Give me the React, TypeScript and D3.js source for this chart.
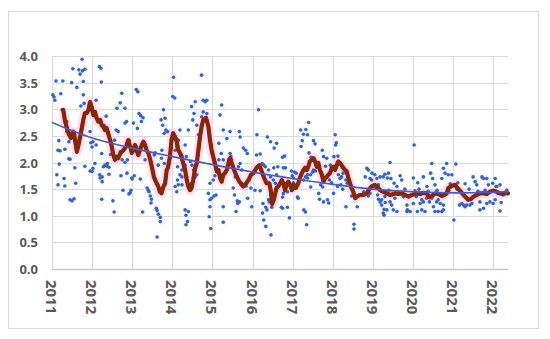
import React from "react";
import * as d3 from "d3";

// ---------- data ----------
const xTickYears = [2011, 2012, 2013, 2014, 2015, 2016, 2017, 2018, 2019, 2020, 2021, 2022];
const yTicks = [0, 0.5, 1, 1.5, 2, 2.5, 3, 3.5, 4];
const xDomain: [number, number] = [2011, 2022.37];

// scatter observations [year, value]
const scatterPoints: [number, number][] = [
  // 2011
  [2011.02, 3.27], [2011.05, 3.23], [2011.07, 3.17], [2011.1, 3.53], [2011.22, 3.29], [2011.27, 3.53],
  [2011.49, 3.5], [2011.52, 3.76], [2011.62, 3.41], [2011.67, 3.74], [2011.7, 3.66], [2011.75, 3.94],
  [2011.76, 3.72], [2011.78, 3.52], [2011.82, 3.75], [2011.78, 3.27], [2011.8, 3.11], [2011.72, 3.06],
  [2011.92, 3.06], [2011.17, 2.41], [2011.2, 2.22], [2011.25, 2.99], [2011.37, 2.58], [2011.37, 2.77],
  [2011.42, 2.39], [2011.45, 2.06], [2011.15, 2.23], [2011.32, 2.25], [2011.42, 2.07], [2011.57, 1.9],
  [2011.12, 1.77], [2011.3, 1.7], [2011.32, 1.56], [2011.15, 1.58], [2011.59, 1.61], [2011.45, 1.3],
  [2011.55, 1.32], [2011.5, 1.28], [2011.95, 1.84], [2011.97, 2.37], [2011.95, 2.58], [2011.18, 1.97],
  [2011.82, 1.93], [2011.57, 2.4],
  // 2012
  [2012.0, 2.29], [2012.1, 2.33], [2012.18, 3.8], [2012.22, 3.77], [2012.23, 3.51], [2012.1, 3.17],
  [2012.35, 2.87], [2012.3, 2.7], [2012.62, 3.02], [2012.7, 3.12], [2012.74, 3.3], [2012.82, 3.02],
  [2012.86, 2.77], [2012.82, 2.74], [2012.6, 2.61], [2012.65, 2.58], [2012.02, 2.39], [2012.2, 1.71],
  [2012.25, 1.64], [2012.24, 1.31], [2012.32, 1.95], [2012.37, 1.93], [2012.42, 1.91], [2012.42, 1.78],
  [2012.52, 1.28], [2012.55, 1.07], [2012.72, 1.75], [2012.87, 1.8], [2012.99, 1.71], [2013.0, 1.69],
  [2012.77, 1.48], [2012.92, 1.41], [2012.97, 1.48], [2012.95, 1.43], [2012.82, 2.0], [2012.75, 2.05],
  [2012.02, 1.89], [2012.07, 1.98], [2012.0, 1.83], [2012.24, 2.17], [2012.19, 1.77], [2012.25, 1.73],
  [2012.28, 1.92], [2012.38, 1.98], [2012.56, 2.42], [2012.92, 2.42], [2012.46, 2.15], [2012.7, 2.2],
  [2012.88, 2.05],
  // 2013
  [2013.03, 2.74], [2013.1, 3.37], [2013.14, 3.33], [2013.17, 2.92], [2013.21, 2.88], [2013.27, 2.84],
  [2013.13, 2.64], [2013.23, 2.77], [2013.2, 1.69], [2013.26, 1.07], [2013.37, 1.52], [2013.4, 1.48],
  [2013.42, 1.45], [2013.45, 1.37], [2013.47, 1.24], [2013.48, 1.31], [2013.6, 1.14], [2013.62, 1.1],
  [2013.65, 1.03], [2013.7, 0.97], [2013.7, 0.89], [2013.62, 0.6], [2013.55, 2.14], [2013.57, 2.18],
  [2013.74, 2.23], [2013.78, 2.99], [2013.82, 2.83], [2013.8, 2.55], [2013.84, 2.61], [2013.88, 2.58],
  [2013.98, 2.43], [2013.72, 2.8], [2013.76, 2.7], [2013.05, 1.75], [2013.1, 2.3], [2013.32, 2.05],
  [2013.65, 1.95], [2013.73, 2.08], [2013.8, 1.98],
  // 2014
  [2014.03, 3.6], [2014.01, 3.24], [2014.06, 3.21], [2014.11, 2.3], [2014.15, 2.42], [2014.19, 2.61],
  [2014.32, 2.33], [2014.07, 2.23], [2014.13, 1.92], [2014.24, 1.86], [2014.28, 1.92], [2014.32, 1.95],
  [2014.48, 3.05], [2014.57, 3.14], [2014.73, 3.64], [2014.77, 3.17], [2014.82, 3.14], [2014.86, 3.17],
  [2014.77, 2.95], [2014.73, 2.86], [2014.86, 2.92], [2014.54, 2.92], [2014.51, 2.8], [2014.65, 2.52],
  [2014.61, 2.7], [2014.4, 2.61], [2014.24, 2.05], [2014.35, 2.11], [2014.45, 2.02], [2014.49, 1.95],
  [2014.53, 1.86], [2014.07, 1.55], [2014.15, 1.58], [2014.24, 1.58], [2014.11, 1.45], [2014.13, 1.67],
  [2014.19, 1.77], [2014.24, 1.73], [2014.32, 1.11], [2014.4, 1.08], [2014.34, 1.01], [2014.38, 0.89],
  [2014.34, 0.83], [2014.9, 1.42], [2014.94, 1.3], [2014.98, 1.33], [2015.04, 1.37], [2015.09, 1.39],
  [2014.94, 1.17], [2014.92, 0.98], [2014.96, 0.76], [2015.02, 1.67], [2015.06, 1.75], [2014.36, 1.73],
  [2014.57, 1.73], [2014.61, 1.77], [2014.48, 1.61], [2014.94, 1.61],
  // 2015
  [2015.23, 3.08], [2015.19, 2.89], [2015.27, 2.61], [2015.36, 2.45], [2015.44, 2.58], [2015.16, 2.36],
  [2015.22, 2.17], [2015.16, 2.05], [2015.27, 2.05], [2015.44, 2.17], [2015.46, 2.11], [2015.4, 2.05],
  [2015.48, 2.05], [2015.69, 1.98], [2015.73, 1.86], [2015.65, 1.92], [2015.57, 1.73], [2015.65, 1.67],
  [2015.77, 2.27], [2015.83, 2.23], [2015.87, 2.17], [2015.27, 1.17], [2015.27, 0.88], [2015.52, 1.52],
  [2015.55, 1.39], [2015.63, 1.23], [2015.62, 1.28], [2015.67, 1.26], [2015.59, 1.08], [2015.73, 1.61],
  [2015.84, 1.56], [2015.96, 1.52], [2016.06, 1.48], [2016.19, 1.47], [2015.88, 1.33], [2015.98, 1.17],
  [2015.67, 2.58], [2015.69, 2.48],
  // 2016
  [2016.15, 2.99], [2016.11, 2.52], [2016.37, 2.48], [2016.45, 2.39], [2016.24, 1.98], [2016.28, 1.95],
  [2016.32, 1.92], [2016.4, 1.86], [2016.45, 1.73], [2016.52, 1.67], [2016.57, 1.61], [2016.1, 2.14],
  [2016.19, 2.16], [2016.54, 2.27], [2016.6, 2.36], [2016.26, 1.23], [2016.33, 1.16], [2016.36, 1.11],
  [2016.25, 1.05], [2016.28, 0.92], [2016.33, 0.8], [2016.46, 0.64], [2016.4, 1.3], [2016.42, 1.26],
  [2016.53, 1.9], [2016.63, 1.92], [2016.77, 1.9], [2016.82, 1.9], [2016.6, 1.77], [2016.48, 1.16],
  [2016.75, 1.35], [2016.77, 1.42], [2016.72, 1.16], [2016.75, 1.14], [2016.87, 1.45], [2016.87, 1.16],
  [2016.92, 0.96], [2016.97, 1.84], [2016.99, 1.75], [2017.02, 1.71], [2017.02, 1.62], [2017.04, 1.54],
  [2017.04, 1.82], [2017.09, 1.8], [2017.12, 1.35], [2017.14, 1.33], [2016.8, 2.12], [2016.75, 2.1],
  // 2017
  [2017.27, 1.67], [2017.37, 1.71], [2017.37, 1.77], [2017.32, 1.73], [2017.32, 1.07], [2017.35, 0.83],
  [2017.45, 1.77], [2017.5, 1.82], [2017.52, 1.86], [2017.57, 1.84], [2017.45, 1.54], [2017.7, 1.58],
  [2017.75, 1.54], [2017.65, 1.42], [2017.67, 1.31], [2017.77, 1.26], [2017.9, 1.24], [2017.87, 1.3],
  [2017.82, 1.93], [2017.94, 1.95], [2017.97, 1.9], [2018.04, 1.92], [2017.92, 1.67], [2017.97, 1.62],
  [2018.02, 1.42], [2017.4, 2.75], [2017.2, 2.61], [2017.33, 2.62], [2017.27, 2.53], [2017.37, 2.52],
  [2017.24, 2.41], [2017.21, 2.3], [2017.52, 2.41], [2017.56, 2.35], [2017.74, 2.23], [2017.77, 2.11],
  [2017.85, 2.08], [2017.41, 2.18], [2017.46, 2.1], [2017.28, 1.11],
  // 2018
  [2018.06, 2.52], [2018.09, 2.37], [2018.07, 2.33], [2018.03, 2.11], [2018.13, 2.12], [2018.14, 1.77],
  [2018.22, 1.73], [2018.18, 1.7], [2018.26, 1.8], [2018.33, 1.67], [2018.36, 1.61], [2018.2, 1.58],
  [2018.33, 1.17], [2018.47, 1.37], [2018.53, 0.84], [2018.53, 0.75], [2018.61, 1.17], [2018.85, 1.89],
  [2018.89, 1.86], [2018.81, 1.73], [2018.93, 1.7], [2018.97, 1.67], [2018.77, 1.45], [2018.81, 1.42],
  [2018.89, 1.37], [2018.93, 1.42], [2018.12, 1.55], [2018.25, 1.5],
  // 2019
  [2018.98, 1.8], [2019.05, 1.77], [2019.1, 1.7], [2019.18, 1.73], [2019.26, 1.73], [2019.3, 1.78],
  [2019.39, 1.8], [2019.01, 1.55], [2019.08, 1.52], [2019.14, 1.58], [2019.18, 1.48], [2019.14, 1.31],
  [2019.18, 1.26], [2019.22, 1.2], [2019.28, 1.12], [2019.26, 1.05], [2019.12, 1.39], [2019.3, 1.36],
  [2019.43, 2.0], [2019.36, 1.71], [2019.45, 1.7], [2019.53, 1.61], [2019.6, 1.55], [2019.72, 1.67],
  [2019.68, 1.75], [2019.22, 1.3], [2019.31, 1.25], [2019.35, 1.11], [2019.43, 1.26], [2019.47, 1.2],
  [2019.55, 1.33], [2019.51, 1.11], [2019.6, 1.08], [2019.28, 1.01], [2019.68, 1.42], [2019.76, 1.36],
  [2019.85, 1.2], [2019.86, 1.11], [2019.93, 1.08], [2019.4, 1.48], [2019.62, 1.45], [2019.8, 1.5],
  [2019.85, 1.08],
  // 2020
  [2020.03, 2.33], [2020.47, 1.98], [2020.84, 1.98], [2020.76, 1.89], [2020.44, 1.8], [2020.8, 1.8],
  [2020.88, 1.77], [2020.97, 1.77], [2020.72, 1.7], [2020.49, 1.7], [2020.55, 1.58], [2020.01, 1.71],
  [2020.26, 1.73], [2020.01, 1.23], [2020.08, 1.36], [2020.11, 1.08], [2020.18, 1.23], [2020.22, 1.3],
  [2020.26, 1.26], [2020.3, 1.08], [2020.34, 1.33], [2020.41, 1.26], [2020.47, 1.33], [2020.51, 1.17],
  [2020.55, 1.08], [2020.59, 1.26], [2020.63, 1.3], [2020.68, 1.23], [2020.72, 1.08], [2020.76, 1.2],
  [2020.05, 1.47], [2020.15, 1.5], [2020.38, 1.46], [2020.6, 1.48], [2020.9, 1.47], [2020.22, 1.11],
  [2020.63, 1.08], [2020.76, 1.11], [2020.12, 1.62], [2020.35, 1.55], [2020.93, 1.6],
  // 2021
  [2021.07, 1.97], [2021.02, 0.92], [2021.16, 1.2], [2021.22, 1.23], [2021.26, 1.2], [2021.3, 1.17],
  [2021.34, 1.2], [2021.42, 1.2], [2021.47, 1.23], [2021.67, 1.26], [2021.84, 1.23], [2021.92, 1.26],
  [2021.5, 1.73], [2021.55, 1.64], [2021.59, 1.58], [2021.72, 1.73], [2021.76, 1.7], [2021.84, 1.7],
  [2021.88, 1.58], [2021.99, 1.61], [2021.67, 1.11], [2021.76, 1.14], [2021.1, 1.5], [2021.2, 1.45],
  [2021.4, 1.5], [2021.62, 1.46], [2021.8, 1.48], [2021.12, 1.62], [2021.3, 1.6],
  // 2022
  [2022.0, 1.23], [2022.05, 1.3], [2022.05, 1.7], [2022.07, 1.55], [2022.17, 1.09], [2022.09, 1.55],
  [2022.17, 1.58], [2022.12, 1.42], [2022.25, 1.39], [2022.34, 1.48], [2022.3, 1.44], [2022.2, 1.25],
];

// moving average [year, value]
const movingAvg: [number, number][] = [
  [2011.28, 2.99], [2011.32, 2.8], [2011.37, 2.65], [2011.41, 2.55], [2011.47, 2.46], [2011.52, 2.58],
  [2011.55, 2.55], [2011.62, 2.2], [2011.66, 2.33], [2011.72, 2.55], [2011.78, 2.8], [2011.82, 2.93],
  [2011.87, 2.93], [2011.91, 2.99], [2011.95, 3.14], [2011.99, 3.04], [2012.03, 2.89], [2012.07, 2.95],
  [2012.11, 2.84], [2012.15, 2.77], [2012.2, 2.8], [2012.24, 2.7], [2012.28, 2.67], [2012.32, 2.61],
  [2012.36, 2.65], [2012.4, 2.55], [2012.45, 2.42], [2012.49, 2.3], [2012.53, 2.14], [2012.57, 2.05],
  [2012.61, 2.11], [2012.65, 2.08], [2012.71, 2.18], [2012.78, 2.23], [2012.85, 2.3], [2012.9, 2.42],
  [2012.95, 2.3], [2012.99, 2.18], [2013.03, 2.23], [2013.07, 2.33], [2013.11, 2.23], [2013.15, 2.14],
  [2013.19, 2.23], [2013.24, 2.33], [2013.28, 2.39], [2013.32, 2.33], [2013.36, 2.23], [2013.4, 2.18],
  [2013.44, 2.08], [2013.49, 1.92], [2013.54, 1.73], [2013.59, 1.64], [2013.65, 1.55], [2013.69, 1.45],
  [2013.73, 1.42], [2013.78, 1.55], [2013.82, 1.61], [2013.86, 1.86], [2013.89, 1.9], [2013.94, 2.1],
  [2013.98, 2.42], [2014.02, 2.55], [2014.07, 2.48], [2014.11, 2.39], [2014.15, 2.23], [2014.19, 2.18],
  [2014.23, 2.11], [2014.27, 1.99], [2014.32, 1.86], [2014.36, 1.67], [2014.4, 1.55], [2014.44, 1.48],
  [2014.48, 1.52], [2014.52, 1.67], [2014.57, 1.9], [2014.61, 1.99], [2014.65, 2.23], [2014.69, 2.48],
  [2014.73, 2.67], [2014.77, 2.8], [2014.84, 2.84], [2014.9, 2.67], [2014.94, 2.42], [2014.98, 2.23],
  [2015.02, 2.11], [2015.06, 1.99], [2015.11, 1.83], [2015.15, 1.86], [2015.19, 1.71], [2015.23, 1.64],
  [2015.27, 1.77], [2015.31, 1.8], [2015.36, 1.86], [2015.4, 1.99], [2015.44, 2.08], [2015.48, 1.99],
  [2015.54, 1.86], [2015.59, 1.77], [2015.65, 1.67], [2015.73, 1.58], [2015.77, 1.55], [2015.84, 1.61],
  [2015.9, 1.67], [2015.96, 1.77], [2016.02, 1.8], [2016.1, 1.9], [2016.17, 1.95], [2016.23, 1.83],
  [2016.29, 1.71], [2016.35, 1.61], [2016.42, 1.61], [2016.46, 1.45], [2016.49, 1.22], [2016.53, 1.3],
  [2016.56, 1.4], [2016.6, 1.52], [2016.64, 1.55], [2016.69, 1.61], [2016.73, 1.67], [2016.77, 1.61],
  [2016.81, 1.48], [2016.85, 1.58], [2016.89, 1.64], [2016.94, 1.58], [2016.98, 1.48], [2017.03, 1.58],
  [2017.08, 1.52], [2017.14, 1.61], [2017.18, 1.71], [2017.23, 1.8], [2017.27, 1.86], [2017.31, 1.9],
  [2017.35, 1.86], [2017.39, 1.92], [2017.43, 2.02], [2017.48, 2.05], [2017.52, 2.08], [2017.56, 2.02],
  [2017.6, 1.92], [2017.64, 1.99], [2017.68, 1.86], [2017.73, 1.77], [2017.77, 1.64], [2017.81, 1.71],
  [2017.85, 1.73], [2017.89, 1.77], [2017.93, 1.8], [2017.98, 1.9], [2018.02, 1.92], [2018.06, 1.86],
  [2018.1, 1.95], [2018.14, 2.02], [2018.18, 1.99], [2018.22, 1.95], [2018.26, 1.9], [2018.31, 1.86],
  [2018.35, 1.83], [2018.39, 1.71], [2018.43, 1.61], [2018.47, 1.52], [2018.51, 1.45], [2018.56, 1.33],
  [2018.6, 1.36], [2018.68, 1.39], [2018.76, 1.39], [2018.85, 1.42], [2018.89, 1.48], [2018.97, 1.55],
  [2019.05, 1.58], [2019.14, 1.52], [2019.18, 1.48], [2019.26, 1.45], [2019.35, 1.42], [2019.43, 1.39],
  [2019.55, 1.42], [2019.63, 1.41], [2019.72, 1.42], [2019.8, 1.39], [2019.89, 1.36], [2019.97, 1.39],
  [2020.09, 1.42], [2020.18, 1.41], [2020.26, 1.43], [2020.34, 1.42], [2020.41, 1.35], [2020.47, 1.37],
  [2020.55, 1.42], [2020.63, 1.41], [2020.72, 1.37], [2020.78, 1.39], [2020.84, 1.42], [2020.88, 1.52],
  [2020.97, 1.56], [2021.05, 1.58], [2021.11, 1.52], [2021.16, 1.48], [2021.22, 1.43], [2021.3, 1.36],
  [2021.38, 1.3], [2021.44, 1.31], [2021.51, 1.36], [2021.59, 1.39], [2021.67, 1.42], [2021.76, 1.42],
  [2021.84, 1.41], [2021.92, 1.45], [2022.0, 1.47], [2022.09, 1.45], [2022.17, 1.42], [2022.25, 1.41],
  [2022.34, 1.43], [2022.37, 1.42],
];

// fitted trend [year, value]
const trendPoints: [number, number][] = [
  [2011, 2.75], [2012, 2.46], [2013, 2.27], [2014, 2.11], [2015, 1.96], [2016, 1.82], [2017, 1.7],
  [2018, 1.59], [2019, 1.5], [2020, 1.45], [2021, 1.43], [2022, 1.44], [2022.37, 1.45],
];

// ---------- layout ----------
const W = 550;
const H = 339;
const plot = { left: 52, right: 508, top: 56, bottom: 269 };

export default function App() {
  const x = d3.scaleLinear().domain(xDomain).range([plot.left, plot.right]);
  const y = d3.scaleLinear().domain([0, 4]).range([plot.bottom, plot.top]);

  const lineGen = d3
    .line<[number, number]>()
    .x((d) => x(d[0]))
    .y((d) => y(d[1]));
  const smoothGen = d3
    .line<[number, number]>()
    .x((d) => x(d[0]))
    .y((d) => y(d[1]))
    .curve(d3.curveCatmullRom.alpha(0.5));

  const maPath = lineGen(movingAvg) || "";
  const trendPath = smoothGen(trendPoints) || "";
  const font = "'Open Sans', 'Liberation Sans', sans-serif";

  return (
    <svg
      width={W}
      height={H}
      style={{ position: "absolute", left: 0, top: 0, background: "#fff" }}
    >
      <rect x={8.5} y={11.5} width={530} height={317} fill="#fff" stroke="#D9D9D9" strokeWidth={1} />

      {/* grid */}
      {yTicks.map((t) => (
        <line
          key={"h" + t}
          x1={plot.left}
          x2={plot.right}
          y1={Math.round(y(t)) + 0.5}
          y2={Math.round(y(t)) + 0.5}
          stroke={t === 0 ? "#C8C8C8" : "#D9D9D9"}
          strokeWidth={t === 0 ? 1.5 : 1.2}
        />
      ))}
      {xTickYears.map((t) => (
        <line
          key={"v" + t}
          x1={Math.round(x(t)) + 0.5}
          x2={Math.round(x(t)) + 0.5}
          y1={plot.top}
          y2={plot.bottom}
          stroke="#D9D9D9"
          strokeWidth={1.2}
        />
      ))}

      {/* dot halos */}
      {scatterPoints.map((d, i) => (
        <circle key={"g" + i} cx={x(d[0])} cy={y(d[1])} r={3.4} fill="#E3F8FF" opacity={0.5} />
      ))}

      {/* moving average: pink band */}
      <path d={maPath} fill="none" stroke="#FFD9EE" strokeWidth={10} strokeLinejoin="round" opacity={0.8} />

      {/* scatter */}
      {scatterPoints.map((d, i) => (
        <circle key={"p" + i} cx={x(d[0])} cy={y(d[1])} r={1.8} fill="#3F5FBF" />
      ))}

      {/* moving average: red edge, brown core */}
      <path d={maPath} fill="none" stroke="#D00000" strokeWidth={4.2} strokeLinejoin="round" strokeLinecap="round" />
      <path d={maPath} fill="none" stroke="#73300C" strokeWidth={3} strokeLinejoin="round" strokeLinecap="round" />

      {/* trend */}
      <path d={trendPath} fill="none" stroke="#4A5CC4" strokeWidth={1.6} />

      {/* y labels */}
      {yTicks.map((t) => (
        <text
          key={"yl" + t}
          x={38}
          y={y(t)}
          textAnchor="end"
          dominantBaseline="central"
          fontFamily={font}
          fontSize={13}
          fontWeight={700}
          fill="#595959"
        >
          {t.toFixed(1)}
        </text>
      ))}

      {/* x labels */}
      {xTickYears.map((t) => (
        <text
          key={"xl" + t}
          transform={`translate(${x(t)},${280}) rotate(90)`}
          textAnchor="start"
          dominantBaseline="central"
          fontFamily={font}
          fontSize={15}
          fontWeight={700}
          fill="#595959"
        >
          {t}
        </text>
      ))}
    </svg>
  );
}
